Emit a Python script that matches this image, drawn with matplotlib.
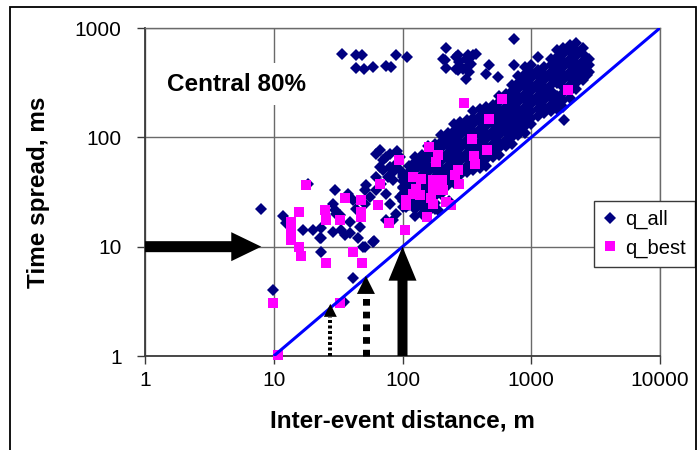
import matplotlib
matplotlib.use('Agg')
import matplotlib.pyplot as plt
from matplotlib.patches import Rectangle

plt.rcParams['font.family'] = ['Liberation Sans', 'DejaVu Sans']

# ---------------------------------------------------------------- data
# q_all: scattered pairs at short inter-event distances
q_all_sparse_x = [7.9, 11.7, 12.5, 16.9, 20.2, 23.4, 22.7, 28.8, 33.5, 38.8,
                  46.4, 45.0, 50.7, 59.6, 38.8, 32.5, 29.7, 28.8, 29.7, 37.7,
                  41.2, 43.8, 50.7, 50.7, 55.5, 62.5, 68.4, 62.5, 74.7, 79.3,
                  84.1, 89.4, 74.7, 62.5, 70.3, 79.3, 89.4, 84.1, 100, 100,
                  94.8, 107, 120, 128, 107, 9.9, 23.4, 41.2, 58.9, 30.6,
                  23.4, 35.5, 49.2, 66.4, 74.7, 66.4, 52.3, 76.9, 18.3, 70,
                  80, 90, 95, 85, 95, 35.0, 152, 190, 230]
q_all_sparse_y = [22.3, 19.1, 16.3, 14.2, 14.2, 14.7, 12.1, 13.7, 14.2, 13.2,
                  15.0, 12.1, 9.96, 11.3, 16.8, 19.4, 21.5, 24.8, 32.8, 30.6,
                  26.6, 22.3, 32.8, 24.8, 28.5, 32.8, 37.8, 43.4, 30.6, 24.8,
                  17.5, 20.1, 17.5, 71.0, 50.0, 53.6, 57.5, 40.5, 43.4, 35.2,
                  28.5, 30.6, 57.5, 32.8, 23.1, 4.0, 8.97, 5.12, 11.1, 20.1,
                  11.9, 12.7, 9.96, 76, 66, 53.6, 36.5, 43.4, 37.5, 62,
                  70, 75, 66, 48, 50, 3.1, 20.1, 21.5, 26]

# q_all: pairs lying well away from the main band
q_all_outlying_x = [34.1, 43.8, 48.7, 43.8, 50.1, 58.9, 74.8, 80.7, 89.4, 108,
                    218, 205, 218, 261, 312, 372, 293, 312, 472, 446,
                    548, 729, 738, 268, 268, 321, 340, 277, 330, 261,
                    330, 212, 1119, 2733, 1803, 351]
q_all_outlying_y = [581, 569, 569, 433, 424, 439, 448, 439, 569, 541,
                    654, 523, 430, 541, 523, 581, 424, 344, 455, 381,
                    355, 785, 461, 561, 409, 561, 471, 487, 455, 424,
                    395, 513, 541, 368, 143, 561]

# q_all: main band, grouped by distance
q_all_band_x = [100, 112, 126, 141, 158, 178, 200, 224, 251, 282,
                316, 355, 398, 447, 501, 562, 631, 708, 794, 891,
                1000, 1122, 1259, 1413, 1585, 1778, 1995, 2239, 2512, 2818]
q_all_band_y = [
    [22.9, 26.3, 30.2, 34.7, 39.8, 45.7],
    [23.9, 27.5, 31.6, 36.2, 41.6, 47.8, 54.9],
    [19.1, 21.9, 25.1, 28.9, 33.1, 38.1, 43.7, 50.2, 57.6, 66.1],
    [19.9, 22.9, 26.3, 30.1, 34.6, 39.7, 45.6, 52.4, 60.2, 69.1],
    [20.8, 23.9, 27.5, 31.5, 36.2, 41.6, 47.7, 54.8, 62.9, 72.2, 82.9],
    [21.9, 25.2, 28.9, 33.1, 38.1, 43.7, 50.2, 57.6, 66.1, 75.9, 87.2],
    [30.3, 34.8, 39.9, 45.8, 52.6, 60.4, 69.3, 79.6, 91.4, 105],
    [36.3, 41.7, 47.9, 55.0, 63.1, 72.5, 83.2, 95.6, 110],
    [38.0, 43.6, 50.1, 57.5, 66.0, 75.8, 87.0, 99.9, 115, 132],
    [45.7, 52.5, 60.3, 69.2, 79.5, 91.3, 105, 120, 138],
    [47.8, 54.9, 63.0, 72.4, 83.1, 95.4, 110, 126, 144],
    [50.2, 57.6, 66.1, 75.9, 87.2, 100, 115, 132, 151, 174],
    [52.5, 60.3, 69.2, 79.4, 91.2, 105, 120, 138, 158, 182],
    [55.0, 63.2, 72.5, 83.2, 95.6, 110, 126, 145, 166, 191],
    [66.0, 75.9, 87.1, 99.9, 115, 132, 151, 174, 199],
    [69.1, 79.4, 91.2, 105, 120, 138, 158, 182, 209, 240],
    [83.2, 95.5, 110, 126, 145, 166, 191, 219, 251],
    [87.1, 100, 115, 132, 151, 174, 200, 229, 263, 302],
    [105, 120, 138, 158, 182, 209, 240, 275, 316, 363],
    [110, 126, 145, 166, 191, 219, 251, 288, 331, 380, 436],
    [132, 151, 174, 200, 229, 263, 302, 347, 398, 457],
    [158, 182, 209, 239, 275, 316, 362, 416],
    [166, 191, 219, 251, 289, 331, 381, 437],
    [173, 199, 229, 263, 301, 346, 397, 456, 524],
    [181, 208, 239, 315, 362, 416, 477, 548, 629],
    [191, 219, 252, 289, 331, 381, 437, 502, 576, 661],
    [230, 264, 303, 348, 399, 458, 526, 604, 693],
    [276, 317, 363, 417, 479, 550, 631, 725],
    [331, 380, 436, 501, 575, 660],
    [398, 457, 525],
]

# q_best pairs
q_best_x = [17.7, 15.7, 13.7, 13.7, 13.7, 15.7, 16.4, 25.3, 24.8, 25.6,
            32.9, 35.5, 47.8, 47.8, 47.8, 41.2, 48.6, 64.4, 66.4, 78.3,
            105, 107, 93.6, 120, 120, 9.9, 32.9, 10.8, 299, 593,
            472, 347, 454, 162, 188, 183, 357, 366, 268, 258,
            277, 140, 172, 203, 128, 172, 205, 136, 107, 167,
            172, 218, 239, 1945, 155]
q_best_y = [36.5, 20.8, 16.9, 13.7, 11.5, 9.96, 8.19, 7.11, 21.5, 17.5,
            17.5, 27.6, 26.6, 20.8, 18.7, 8.97, 7.11, 23.9, 37.8, 16.5,
            14.2, 26.6, 62.5, 43.4, 30.6, 3.03, 3.03, 1.02, 207, 222,
            148, 97.3, 77.2, 81.5, 68.5, 59.5, 67.0, 57.5, 50.7, 45.0,
            37.8, 42.0, 40.5, 40.5, 34.0, 32.8, 32.8, 29.5, 23.9, 27.6,
            24.8, 25.7, 23.9, 269, 18.5]

# reference line: time spread = distance / 10
ref_x = [10, 10000]
ref_y = [1, 1000]

x_ticks = [1, 10, 100, 1000, 10000]
x_tick_labels = ['1', '10', '100', '1000', '10000']
y_ticks = [1, 10, 100, 1000]
y_tick_labels = ['1', '10', '100', '1000']

# arrow anchors (distance, time spread)
h_arrow_tail = (1, 10)
h_arrow_tip = (8.0, 10)
solid_arrow_x, solid_arrow_tip = 100, 10
dashed_arrow_x, dashed_arrow_tip = 52, 5.4
dotted_arrow_x, dotted_arrow_tip = 27.5, 3.0

# ---------------------------------------------------------------- style
NAVY = '#000080'
MAGENTA = '#FF00FF'
BLUE = '#0000FF'
GRID = '#6a6a6a'
AXIS = '#3a3a3a'

W, H = 699, 450
fig = plt.figure(figsize=(W / 100, H / 100), dpi=100)
ax = fig.add_axes([145 / W, 94 / H, 515 / W, 328 / H])
ax.set_xscale('log')
ax.set_yscale('log')
ax.set_xlim(1, 10000)
ax.set_ylim(1, 1000)

band_x = [x for x, col in zip(q_all_band_x, q_all_band_y) for _ in col]
band_y = [y for col in q_all_band_y for y in col]
all_x = q_all_sparse_x + q_all_outlying_x + band_x
all_y = q_all_sparse_y + q_all_outlying_y + band_y

h_all, = ax.plot(all_x, all_y, ls='none', marker='D', ms=6.1, mfc=NAVY,
                 mec=NAVY, mew=0, clip_on=False, zorder=3, label='q_all')
h_best, = ax.plot(q_best_x, q_best_y, ls='none', marker='s', ms=7.1,
                  mfc=MAGENTA, mec=MAGENTA, mew=0, clip_on=False, zorder=4,
                  label='q_best')
ax.plot(ref_x, ref_y, color=BLUE, lw=2.2, zorder=5, solid_capstyle='butt')

ax.set_xticks(x_ticks)
ax.set_xticklabels(x_tick_labels)
ax.set_yticks(y_ticks)
ax.set_yticklabels(y_tick_labels)
ax.minorticks_off()
ax.grid(True, color=GRID, lw=1.0)
ax.set_axisbelow(True)
for s in ('top', 'right'):
    ax.spines[s].set_color(GRID)
    ax.spines[s].set_linewidth(1.0)
for s in ('left', 'bottom'):
    ax.spines[s].set_color(AXIS)
    ax.spines[s].set_linewidth(1.3)
ax.tick_params(axis='both', direction='out', length=5.8, width=1.0,
               color=AXIS, labelsize=15, labelcolor='black')
ax.tick_params(axis='y', pad=11)
ax.tick_params(axis='x', pad=5)

ax.set_xlabel('Inter-event distance, m', fontsize=17.5, fontweight='bold')
ax.xaxis.label.set_va('center')
ax.xaxis.set_label_coords(0.5, (356 - 421) / 328)
ax.set_ylabel('Time spread, ms', fontsize=17.5, fontweight='bold')
ax.yaxis.label.set_va('center')
ax.yaxis.set_label_coords((39 - 145) / 515, 0.5)

ax.text(0.178, 0.829, 'Central 80%', transform=ax.transAxes, ha='center',
        va='center', fontsize=17.5, fontweight='bold', zorder=2.5,
        bbox=dict(boxstyle='square,pad=0.4', fc='white', ec='none'))

# ---------------------------------------------------------------- arrows
PT = 72 / fig.dpi  # points per pixel


def filled_arrow(tail, tip, shaft_px, head_len_px, head_w_px):
    style = (f'simple,head_length={head_len_px * PT},'
             f'head_width={head_w_px * PT},tail_width={shaft_px * PT}')
    ax.annotate('', xy=tip, xytext=tail, xycoords='data', textcoords='data',
                annotation_clip=False, zorder=6,
                arrowprops=dict(arrowstyle=style, mutation_scale=1, fc='black',
                                ec='none', lw=0, shrinkA=0, shrinkB=0))


def y_below(x, y, px):
    X, Y = ax.transData.transform((x, y))
    return ax.transData.inverted().transform((X, Y - px))[1]


def broken_arrow(x, tip, shaft_px, head_len_px, head_w_px, on_px, off_px):
    base = y_below(x, tip, head_len_px)
    lw = shaft_px * PT
    ax.plot([x, x], [1, base], color='black', lw=lw,
            dashes=(on_px / shaft_px, off_px / shaft_px),
            dash_capstyle='butt', solid_capstyle='butt', zorder=6,
            clip_on=False)
    filled_arrow((x, 1), (x, tip), 0.01, head_len_px, head_w_px)


filled_arrow(h_arrow_tail, h_arrow_tip, 11, 30, 29)
filled_arrow((solid_arrow_x, 1), (solid_arrow_x, solid_arrow_tip), 10, 34, 28)
broken_arrow(dashed_arrow_x, dashed_arrow_tip, 7, 18, 18, 6.7, 6.0)
broken_arrow(dotted_arrow_x, dotted_arrow_tip, 4, 13, 13, 3.0, 2.5)

# ---------------------------------------------------------------- legend
leg = ax.legend(handles=[h_all, h_best], loc='upper left',
                bbox_to_anchor=(594 / W, 1 - 201 / H),
                bbox_transform=fig.transFigure, frameon=True, fancybox=False,
                edgecolor=AXIS, framealpha=1, fontsize=14.5, handlelength=0.7,
                handletextpad=0.4, borderpad=0.45, labelspacing=0.45,
                borderaxespad=0)
leg.get_frame().set_linewidth(1.0)
leg.set_zorder(10)

# outer frame
fig.add_artist(Rectangle((10 / W, -0.02), (695.5 - 10) / W, 1 - 7 / H + 0.02,
                         transform=fig.transFigure, fill=False,
                         ec='black', lw=1.3))

fig.savefig('out.png', dpi=100, facecolor='white')
